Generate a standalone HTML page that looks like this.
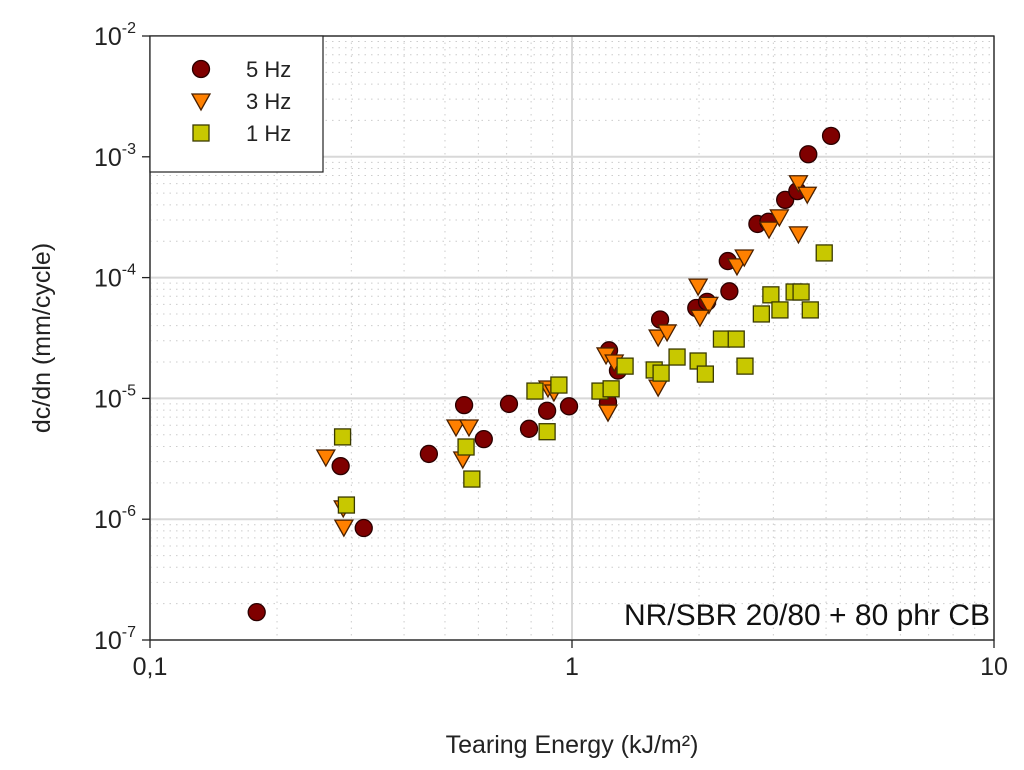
<!DOCTYPE html>
<html><head><meta charset="utf-8"><style>
body{margin:0;background:#fff;}
svg{display:block;font-family:"Liberation Sans",sans-serif;}
</style></head><body>
<svg id="chart" width="1024" height="770" viewBox="0 0 1024 770">
<rect x="0" y="0" width="1024" height="770" fill="#fff"/>
<g id="grid"></g>
<g id="axes"></g>
<g id="marks"></g>
<text x="572" y="753" font-size="25" text-anchor="middle" fill="#222">Tearing Energy (kJ/m²)</text>
<text transform="translate(50,338) rotate(-90)" font-size="25" text-anchor="middle" fill="#222">dc/dn (mm/cycle)</text>
<text x="990" y="625" font-size="30" text-anchor="end" fill="#111">NR/SBR 20/80 + 80 phr CB</text>
<g id="legend">
<rect x="150" y="36" width="173" height="136" fill="#fff" stroke="#222" stroke-width="1.2"/>
</g>
</svg>
<script>
const xTicks=[0.1,1,10];
const xTickLabels=["0,1","1","10"];
const yTickExp=[-2,-3,-4,-5,-6,-7];
const hz5X=[0.179,0.283,0.321,0.458,0.555,0.618,0.709,0.791,0.873,0.984,1.217,1.224,1.285,1.617,1.97,2.09,2.36,2.34,2.75,2.92,3.20,3.42,3.63,4.11];
const hz5Y=[1.7e-7,2.75e-6,8.45e-7,3.47e-6,8.8e-6,4.6e-6,9.0e-6,5.6e-6,7.9e-6,8.6e-6,9.3e-6,2.5e-5,1.7e-5,4.5e-5,5.6e-5,6.3e-5,7.7e-5,1.37e-4,2.78e-4,2.9e-4,4.4e-4,5.2e-4,1.05e-3,1.49e-3];
const hz3X=[0.261,0.288,0.287,0.531,0.570,0.551,0.877,0.906,1.217,1.204,1.259,1.60,1.68,1.60,1.99,2.11,2.01,2.46,2.56,2.93,3.10,3.44,3.61,3.44];
const hz3Y=[3.27e-6,8.6e-7,1.24e-6,5.8e-6,5.8e-6,3.15e-6,1.22e-5,1.13e-5,7.7e-6,2.29e-5,2.0e-5,3.22e-5,3.55e-5,1.24e-5,8.5e-5,6.0e-5,4.7e-5,1.25e-4,1.48e-4,2.52e-4,3.18e-4,6.1e-4,4.9e-4,2.3e-4];
const hz1X=[0.286,0.292,0.561,0.579,0.817,0.931,0.873,1.165,1.238,1.336,1.566,1.626,1.774,1.99,2.07,2.26,2.45,2.57,2.81,2.96,3.11,3.36,3.49,3.67,3.96];
const hz1Y=[4.8e-6,1.31e-6,3.96e-6,2.15e-6,1.15e-5,1.29e-5,5.3e-6,1.15e-5,1.2e-5,1.85e-5,1.72e-5,1.62e-5,2.2e-5,2.04e-5,1.59e-5,3.1e-5,3.1e-5,1.85e-5,5.0e-5,7.2e-5,5.4e-5,7.6e-5,7.6e-5,5.4e-5,1.6e-4];

const X0=150,X1=994,Y0=36,Y1=640;
const xs=v=>X0+(Math.log10(v)+1)/2*(X1-X0);
const ys=v=>Y0+(-2-Math.log10(v))/5*(Y1-Y0);
const NS="http://www.w3.org/2000/svg";
function mk(tag,attrs,parent){const e=document.createElementNS(NS,tag);for(const k in attrs)e.setAttribute(k,attrs[k]);parent.appendChild(e);return e;}
const grid=document.getElementById('grid'),axes=document.getElementById('axes'),marks=document.getElementById('marks');
// minor grid
for(let d=-1;d<1;d++)for(let m=2;m<10;m++){const l=mk('line',{x1:xs(m*Math.pow(10,d)),x2:xs(m*Math.pow(10,d)),y1:Y0,y2:Y1,stroke:'#ccc','stroke-width':1,'stroke-dasharray':'1.5,5'},grid);

}
for(let d=-7;d<-2;d++)for(let m=2;m<10;m++){const l=mk('line',{x1:X0,x2:X1,y1:ys(m*Math.pow(10,d)),y2:ys(m*Math.pow(10,d)),stroke:'#ccc','stroke-width':1,'stroke-dasharray':'1.5,5'},grid);

}
xTicks.forEach((t,i)=>{const l=mk('line',{x1:xs(t),x2:xs(t),y1:Y0,y2:Y1,stroke:'#d8d8d8','stroke-width':2},grid);


const tk=mk('line',{x1:xs(t),x2:xs(t),y1:Y1,y2:Y1+8,stroke:'#222','stroke-width':1.3},axes);


const tx=mk('text',{x:xs(t),y:Y1+35,'font-size':25,'text-anchor':'middle',fill:'#222'},axes);tx.textContent=xTickLabels[i];

});
yTickExp.forEach(e=>{const v=Math.pow(10,e);const l=mk('line',{x1:X0,x2:X1,y1:ys(v),y2:ys(v),stroke:'#d8d8d8','stroke-width':2},grid);


const tk=mk('line',{x1:X0-8,x2:X0,y1:ys(v),y2:ys(v),stroke:'#222','stroke-width':1.3},axes);


const tx=mk('text',{x:X0-14,y:ys(v)+9,'font-size':25,'text-anchor':'end',fill:'#222'},axes);


tx.innerHTML='10<tspan font-size="16" dy="-12">'+e+'</tspan>';});
const fr=mk('rect',{x:X0,y:Y0,width:X1-X0,height:Y1-Y0,fill:'none',stroke:'#222','stroke-width':1.3},axes);


function circle(cx,cy,p){return mk('circle',{cx:cx,cy:cy,r:8.5,fill:'#7f0000',stroke:'#2a0000','stroke-width':1.3},p);}
function tri(cx,cy,p){return mk('polygon',{points:`${cx-9},${cy-7} ${cx+9},${cy-7} ${cx},${cy+9}`,fill:'#ff8000',stroke:'#4a2000','stroke-width':1.3},p);}
function sq(cx,cy,p){return mk('rect',{x:cx-8,y:cy-8,width:16,height:16,fill:'#c8c800',stroke:'#3a3a00','stroke-width':1.3},p);}
hz5X.forEach((x,i)=>{const m=circle(xs(x),ys(hz5Y[i]),marks);

});
hz3X.forEach((x,i)=>{const m=tri(xs(x),ys(hz3Y[i]),marks);

});
hz1X.forEach((x,i)=>{const m=sq(xs(x),ys(hz1Y[i]),marks);

});
const lg=document.getElementById('legend');
const labels=['5 Hz','3 Hz','1 Hz'],fns=[circle,tri,sq];
labels.forEach((s,i)=>{const y=69+i*32;const m=fns[i](201,y,lg);


const t=mk('text',{x:246,y:y+8,'font-size':22,fill:'#222'},lg);t.textContent=s;

});
</script>
</body></html>
